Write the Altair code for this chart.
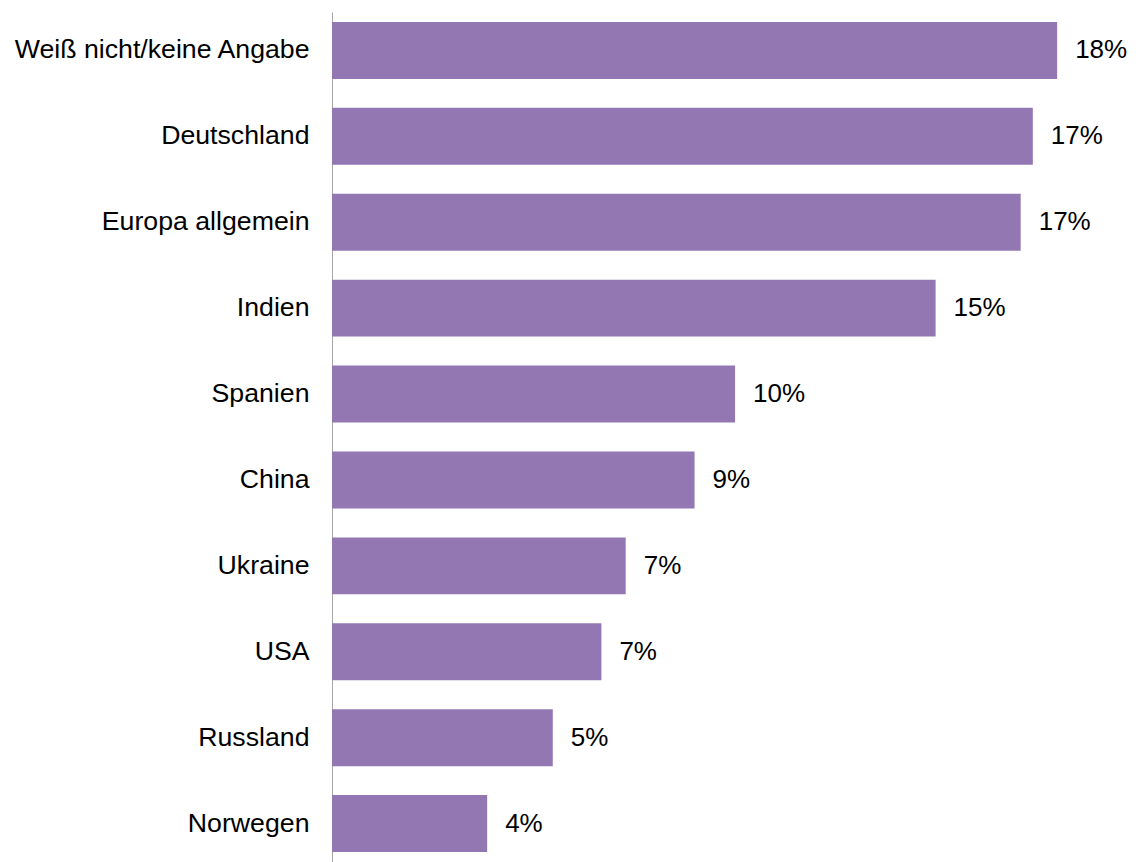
import altair as alt
import pandas as pd

categories = ["Weiß nicht/keine Angabe", "Deutschland", "Europa allgemein", "Indien",
              "Spanien", "China", "Ukraine", "USA", "Russland", "Norwegen"]
values = [17.9, 17.3, 17.0, 14.9, 9.95, 8.95, 7.25, 6.65, 5.45, 3.83]
labels = ["18%", "17%", "17%", "15%", "10%", "9%", "7%", "7%", "5%", "4%"]

df = pd.DataFrame({"cat": categories, "val": values, "lab": labels})

y = alt.Y("cat:N", sort=categories, title=None,
          scale=alt.Scale(paddingInner=0.337, paddingOuter=0.116),
          axis=alt.Axis(ticks=False, labelPadding=23, labelFontSize=26.7,
                        labelFont="Liberation Sans", labelColor="#000000",
                        domainColor="#A6A6A6", domainWidth=1,
                        minExtent=324, maxExtent=324, labelLimit=400))
x = alt.X("val:Q", title=None, scale=alt.Scale(domain=[0, 19.6], nice=False, zero=True),
          axis=None)

bars = alt.Chart(df).mark_bar(color="#9277B3").encode(x=x, y=y)
text = alt.Chart(df).mark_text(align="left", baseline="middle", dx=18, fontSize=26,
                               font="Liberation Sans", color="#000000").encode(
    x=x, y=y, text="lab:N")

chart = alt.layer(bars, text).properties(
    width=794, height=850,
    padding={"left": 0, "top": 4, "right": 0, "bottom": 0}
).configure_view(stroke=None).configure_axis(grid=False)

chart.save("out.html", embed_options={"renderer": "svg", "actions": False})
